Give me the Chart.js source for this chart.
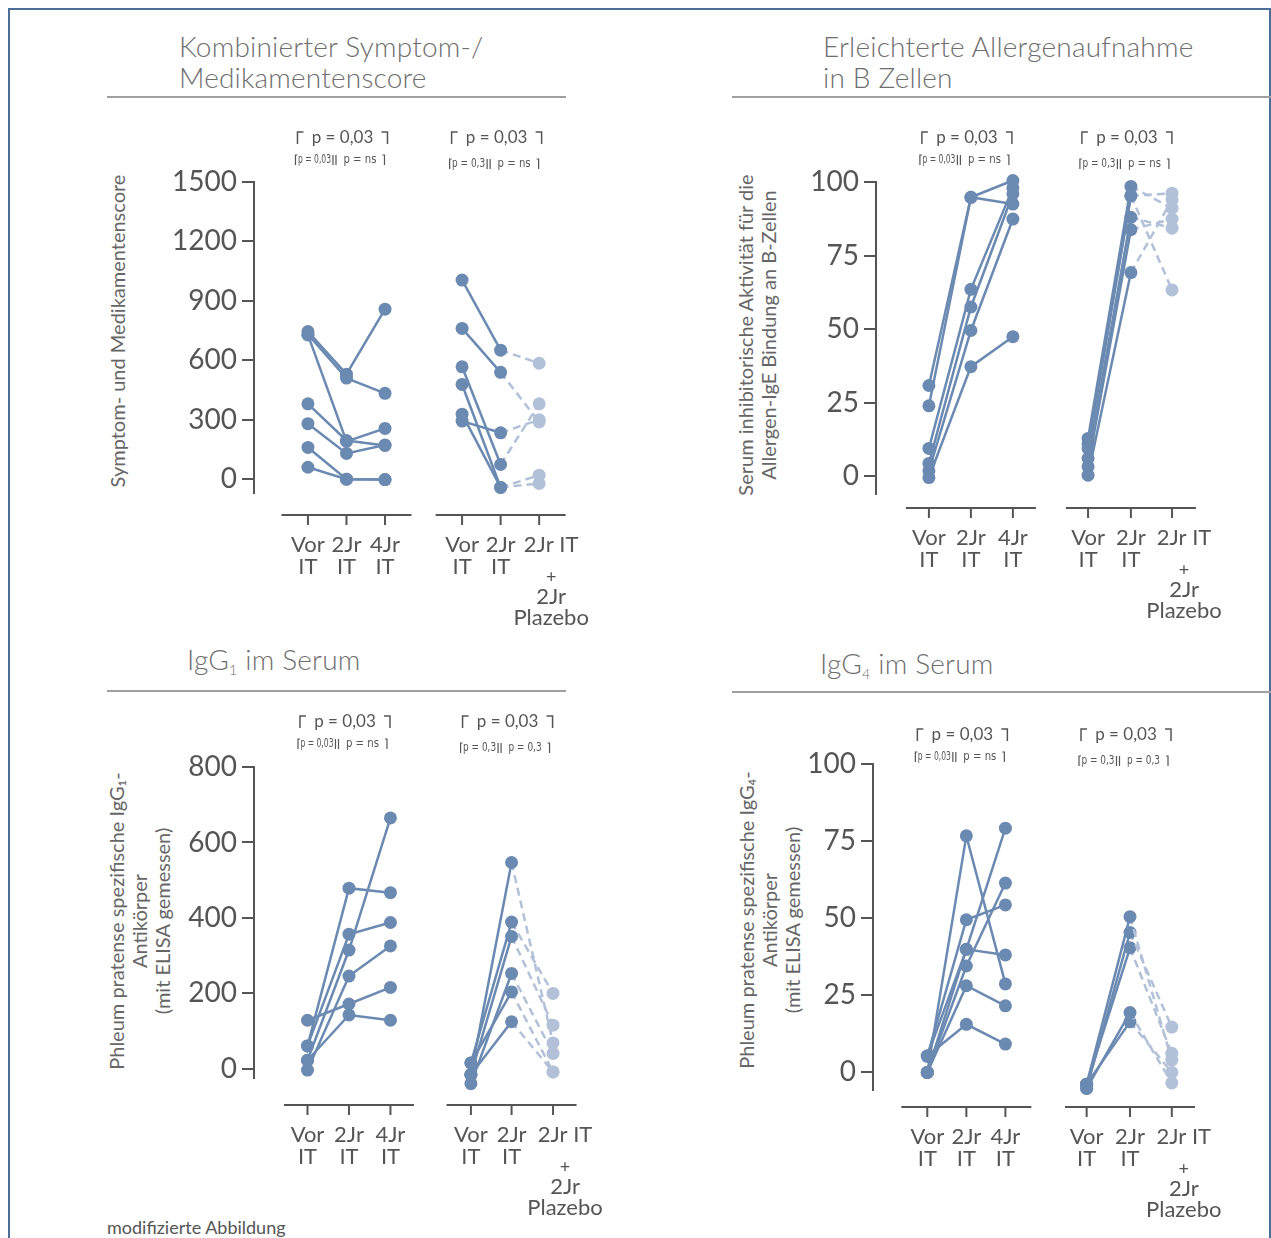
<!DOCTYPE html>
<html lang="de">
<head>
<meta charset="utf-8">
<title>Immuntherapie – Verlauf</title>
<script src="https://cdn.jsdelivr.net/npm/chart.js@4.4.1/dist/chart.umd.min.js"></script>
<style>
  body { margin: 0; background: #fff; }
  #page { position: relative; width: 1271px; height: 1238px; overflow: hidden; font-family: Lato, 'Open Sans', sans-serif; color: #555; }
  #page canvas { position: absolute; left: 0; top: 0; }
  .frame { position: absolute; left: 8px; top: 8px; width: 1263px; height: 1260px; border: 2px solid #4b6f97; border-bottom: none; box-sizing: border-box; }
  .title { position: absolute; font-size: 28px; letter-spacing: 0.2px; font-weight: 300; color: #6e6e6e; line-height: 31px; white-space: nowrap; }
  .title sub { font-size: 14px; vertical-align: -5px; line-height: 0; }
  .rule { position: absolute; height: 0; border-top: 2px solid #a0a0a0; }
  .ytitle { position: absolute; font-size: 20px; color: #666; line-height: 23px; text-align: center; white-space: nowrap;
            transform: translate(-50%, -50%) rotate(-90deg); }
  .note { position: absolute; left: 107px; top: 1216px; font-size: 18px; color: #555; }
</style>
</head>
<body>
<div id="page">
  <div class="frame"></div>

  <div class="title" style="left:179px; top:31px;">Kombinierter Symptom-/<br>Medikamentenscore</div>
  <div class="rule" style="left:107px; top:96px; width:459px;"></div>
  <div class="title" style="left:823px; top:31px;">Erleichterte Allergenaufnahme<br>in B Zellen</div>
  <div class="rule" style="left:732px; top:96px; width:539px;"></div>
  <div class="title" style="left:187px; top:644px;">IgG<sub>1</sub> im Serum</div>
  <div class="rule" style="left:107px; top:690px; width:459px;"></div>
  <div class="title" style="left:820px; top:648px;">IgG<sub>4</sub> im Serum</div>
  <div class="rule" style="left:732px; top:691px; width:539px;"></div>

  <div class="ytitle" style="left:117px; top:331px;">Symptom- und Medikamentenscore</div>
  <div class="ytitle" style="left:757px; top:335px;">Serum inhibitorische Aktivität für die<br>Allergen-IgE Bindung an B-Zellen</div>
  <div class="ytitle" style="left:139px; top:921px;">Phleum pratense spezifische IgG₁-<br>Antikörper<br>(mit ELISA gemessen)</div>
  <div class="ytitle" style="left:769px; top:920px;">Phleum pratense spezifische IgG₄-<br>Antikörper<br>(mit ELISA gemessen)</div>

  <div class="note">modifizierte Abbildung</div>

  <canvas id="c1" width="1271" height="1238"></canvas>
  <canvas id="c2" width="1271" height="1238"></canvas>
  <canvas id="c3" width="1271" height="1238"></canvas>
  <canvas id="c4" width="1271" height="1238"></canvas>
</div>

<script>
// x labels
const labelsIT = [['Vor', 'IT'], ['2Jr', 'IT'], ['4Jr', 'IT']];
const labelsPlac = [['Vor', 'IT'], ['2Jr', 'IT'], ['2Jr IT', '+', '2Jr', 'Plazebo']];

// y ticks
const scoreTicks = [0, 300, 600, 900, 1200, 1500];
const bcellTicks = [0, 25, 50, 75, 100];
const igg1Ticks = [0, 200, 400, 600, 800];
const igg4Ticks = [0, 25, 50, 75, 100];

// one row per patient: [Vor IT, 2Jr IT, 4Jr IT]
const scoreIT = [
  [745, 530, 858],
  [730, 510, 433],
  [728, 190, 256],
  [380, 195, 170],
  [280, 130, 172],
  [160, 0, -2],
  [60, 0, -2]
];
// one row per patient: [Vor IT, 2Jr IT, 2Jr IT + 2Jr Plazebo]
const scorePlac = [
  [1005, 651, 585],
  [761, 539, 289],
  [567, 74, 380],
  [478, -42, 20],
  [328, -42, -22],
  [293, 234, 300]
];

const bcellIT = [
  [30.8, 94.8, 100.5],
  [23.9, 94.8, 92.5],
  [9.4, 63.5, 98],
  [4.3, 57.5, 96],
  [1.8, 49.5, 87.4],
  [-0.5, 37.2, 47.4]
];
const bcellPlac = [
  [12.8, 98.5, 91.1],
  [9.4, 95.3, 63.3],
  [11, 95.3, 96.2],
  [6, 88, 84.3],
  [3.2, 83.8, 87.4],
  [0.3, 69.2, 94]
];

const igg1IT = [
  [129, 172, 216],
  [61, 479, 467],
  [61, 357, 388],
  [23, 315, 665],
  [-3, 246, 326],
  [23, 143, 129]
];
const igg1Plac = [
  [-15, 547, 69],
  [16, 389, 200],
  [-15, 351, 116],
  [-39, 253, 41],
  [16, 204, -8],
  [-15, 125, -8]
];

const igg4IT = [
  [0, 76.7, 28.7],
  [5.3, 49.5, 54.3],
  [0, 39.9, 79.2],
  [5.3, 39.9, 38.1],
  [0, 34.5, 61.4],
  [0, 28.1, 21.6],
  [5.3, 15.6, 9.2]
];
const igg4Plac = [
  [-3.8, 50.5, 4],
  [-5.2, 45.4, 14.7],
  [-3.8, 40.4, 6.2],
  [-5.2, 19.4, -3.4],
  [-3.8, 16.4, 0]
];

// p values: [main, first pair, second pair]
const pIT = ['p = 0,03', 'p = 0,03', 'p = ns'];
const pPlacNs = ['p = 0,03', 'p = 0,3', 'p = ns'];
const pPlac03 = ['p = 0,03', 'p = 0,3', 'p = 0,3'];

const DARK = '#6b8ab2';
const LIGHT = '#b2c1d8';
const AXIS = '#555';
const FONT = "Lato, 'Open Sans', sans-serif";

// panel geometry (page pixels)
const panels = [
  { id: 'c1', axisX: 254, top: 182, bottom: 493, right: 580, xMin: -1.4, xMax: 7.06,
    yMin: -70, yMax: 1500, ticks: scoreTicks, cols: [[0, 1, 2], [4, 5, 6]],
    it: scoreIT, plac: scorePlac, p: [pIT, pPlacNs], axisGap: 22, pTop: 138, pSub: [160, 164] },
  { id: 'c2', axisX: 876, top: 182, bottom: 494, right: 1230, xMin: -1.26, xMax: 7.17,
    yMin: -6.1, yMax: 100, ticks: bcellTicks, cols: [[0, 1, 2], [3.79, 4.81, 5.79]],
    it: bcellIT, plac: bcellPlac, p: [pIT, pPlacNs], axisGap: 14, pTop: 138, pSub: [160, 164] },
  { id: 'c3', axisX: 254, top: 767, bottom: 1078, right: 580, xMin: -1.29, xMax: 6.57,
    yMin: -24, yMax: 800, ticks: igg1Ticks, cols: [[0, 1, 2], [3.94, 4.92, 5.92]],
    it: igg1IT, plac: igg1Plac, p: [pIT, pPlac03], axisGap: 27, pTop: 722, pSub: [744, 748] },
  { id: 'c4', axisX: 873, top: 764, bottom: 1090, right: 1230, xMin: -1.39, xMax: 7.75,
    yMin: -5.7, yMax: 100, ticks: igg4Ticks, cols: [[0, 1, 2], [4.08, 5.19, 6.26]],
    it: igg4IT, plac: igg4Plac, p: [pIT, pPlac03], axisGap: 17, pTop: 735, pSub: [757, 761] }
];

function drawXLabel(ctx, x, y0, lines) {
  ctx.fillStyle = AXIS;
  ctx.textAlign = 'center';
  ctx.textBaseline = 'middle';
  if (lines.length === 2) {
    ctx.font = '22px ' + FONT;
    ctx.fillText(lines[0], x, y0 + 30);
    ctx.fillText(lines[1], x, y0 + 52);
  } else {
    const xs = x + 12;
    ctx.font = '22px ' + FONT;
    ctx.fillText(lines[0], xs, y0 + 30);
    ctx.font = '18px ' + FONT;
    ctx.fillText(lines[1], xs, y0 + 62);
    ctx.font = '22px ' + FONT;
    ctx.fillText(lines[2], xs, y0 + 82);
    ctx.fillText(lines[3], xs, y0 + 103);
  }
}

function drawP(ctx, cx, yTop, ySub, texts) {
  ctx.strokeStyle = AXIS;
  ctx.fillStyle = AXIS;
  ctx.lineWidth = 1.5;
  ctx.beginPath();
  ctx.moveTo(cx - 45, yTop + 6); ctx.lineTo(cx - 45, yTop - 6); ctx.lineTo(cx - 39, yTop - 6);
  ctx.moveTo(cx + 39, yTop - 6); ctx.lineTo(cx + 45, yTop - 6); ctx.lineTo(cx + 45, yTop + 6);
  ctx.stroke();
  ctx.textAlign = 'center';
  ctx.textBaseline = 'middle';
  ctx.font = '17px ' + FONT;
  ctx.fillText(texts[0], cx, yTop);

  const mid = cx - 8;
  ctx.lineWidth = 1.2;
  ctx.beginPath();
  ctx.moveTo(cx - 47, ySub + 5); ctx.lineTo(cx - 47, ySub - 5); ctx.lineTo(cx - 45, ySub - 5);
  ctx.moveTo(mid - 1.5, ySub - 5); ctx.lineTo(mid - 1.5, ySub + 5);
  ctx.moveTo(mid + 1.5, ySub - 5); ctx.lineTo(mid + 1.5, ySub + 5);
  ctx.moveTo(cx + 40, ySub - 5); ctx.lineTo(cx + 42, ySub - 5); ctx.lineTo(cx + 42, ySub + 5);
  ctx.stroke();
  ctx.font = "13px 'Liberation Sans Narrow', 'DejaVu Sans Condensed', sans-serif";
  ctx.fillText(texts[1], (cx - 45 + mid - 3) / 2, ySub, 33);
  ctx.fillText(texts[2], (mid + 3 + cx + 40) / 2, ySub, 33);
}

const panelDecor = {
  id: 'panelDecor',
  afterDraw(chart, args, opts) {
    const ctx = chart.ctx;
    const xs = chart.scales.x;
    const axisY = chart.chartArea.bottom + opts.axisGap;
    ctx.save();
    opts.cols.forEach((cols, gi) => {
      const px = cols.map(c => xs.getPixelForValue(c));
      ctx.strokeStyle = AXIS;
      ctx.lineWidth = 2;
      ctx.beginPath();
      ctx.moveTo(px[1] - 65, axisY);
      ctx.lineTo(px[1] + 65, axisY);
      px.forEach(p => { ctx.moveTo(p, axisY); ctx.lineTo(p, axisY + 10); });
      ctx.stroke();
      const labels = gi === 0 ? labelsIT : labelsPlac;
      px.forEach((p, i) => drawXLabel(ctx, p, axisY, labels[i]));
      drawP(ctx, px[1] - 4, opts.pTop, opts.pSub[gi], opts.p[gi]);
    });
    ctx.restore();
  }
};

function buildDatasets(cols, rows, placebo) {
  return rows.map(row => ({
    data: row.map((v, i) => ({ x: cols[i], y: v })),
    borderColor: DARK,
    borderWidth: 2.5,
    pointRadius: 6.5,
    pointBorderWidth: 0,
    pointBackgroundColor: placebo ? [DARK, DARK, LIGHT] : DARK,
    clip: false,
    segment: placebo ? {
      borderColor: c => c.p0DataIndex === 1 ? LIGHT : DARK,
      borderDash: c => c.p0DataIndex === 1 ? [8, 5] : undefined
    } : undefined
  }));
}

panels.forEach(pn => {
  const datasets = buildDatasets(pn.cols[1], pn.plac, true)
    .concat(buildDatasets(pn.cols[0], pn.it, false));
  new Chart(document.getElementById(pn.id), {
    type: 'line',
    data: { datasets: datasets },
    options: {
      responsive: false,
      animation: false,
      layout: {
        padding: { left: pn.axisX - 100, top: pn.top, bottom: 1238 - pn.bottom, right: 1271 - pn.right }
      },
      plugins: {
        legend: { display: false },
        tooltip: { enabled: false },
        panelDecor: { cols: pn.cols, p: pn.p, axisGap: pn.axisGap, pTop: pn.pTop, pSub: pn.pSub }
      },
      scales: {
        x: { type: 'linear', display: false, min: pn.xMin, max: pn.xMax },
        y: {
          min: pn.yMin,
          max: pn.yMax,
          afterFit(s) { s.width = 100; },
          afterBuildTicks(s) { s.ticks = pn.ticks.map(v => ({ value: v })); },
          ticks: { font: { family: FONT, size: 28 }, color: AXIS, padding: 5, callback: v => String(v) },
          grid: { drawOnChartArea: false, tickLength: 12, color: AXIS, lineWidth: 2 },
          border: { color: AXIS, width: 2 }
        }
      }
    },
    plugins: [panelDecor]
  });
});
</script>
</body>
</html>
